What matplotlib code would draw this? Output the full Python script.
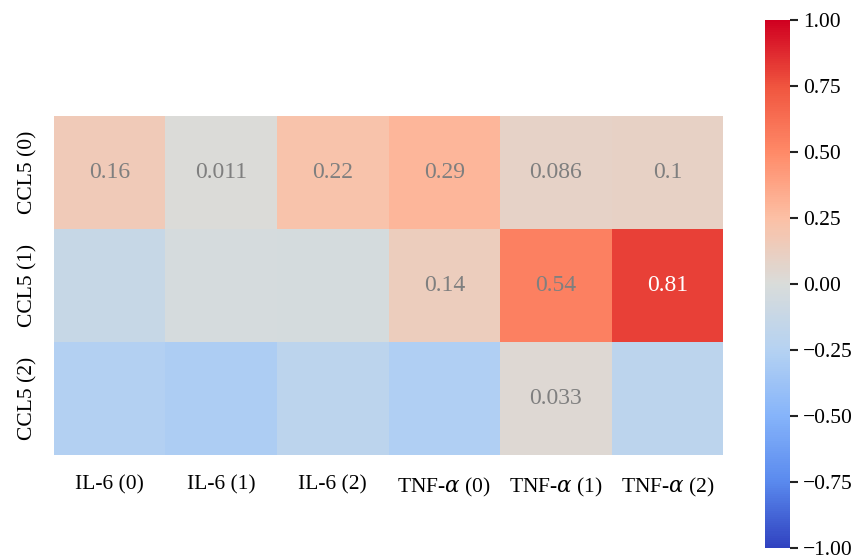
import numpy as np
import matplotlib
matplotlib.use("Agg")
import matplotlib.pyplot as plt
from matplotlib.colors import LinearSegmentedColormap

# Correlation values (rows: CCL5 clusters, cols: IL-6 / TNF-a clusters)
row_labels = ["CCL5 (0)", "CCL5 (1)", "CCL5 (2)"]
col_labels = ["IL-6 (0)", "IL-6 (1)", "IL-6 (2)",
              "TNF-$\\alpha$ (0)", "TNF-$\\alpha$ (1)", "TNF-$\\alpha$ (2)"]
row0 = [0.16, 0.011, 0.22, 0.29, 0.086, 0.1]
row1 = [-0.13, -0.03, -0.035, 0.14, 0.54, 0.81]
row2 = [-0.26, -0.29, -0.2, -0.28, 0.033, -0.2]
cbar_ticks = [-1.0, -0.75, -0.5, -0.25, 0.0, 0.25, 0.5, 0.75, 1.0]

# coolwarm-like palette as it appears in the reference (brighter than mpl's)
palette = ['#3042c0', '#5a8aee', '#86b4fa', '#b5d2f2', '#d9dcda',
           '#fcc0a5', '#ff8a68', '#f0553f', '#d00020']

plt.rcParams['font.family'] = ['Liberation Serif', 'DejaVu Serif']
plt.rcParams['mathtext.fontset'] = 'dejavuserif'

corr = np.array([row0, row1, row2])
n_rows, n_cols = corr.shape

fig = plt.figure(figsize=(8.56, 5.58), dpi=100)
ax = fig.add_axes([0.063, 0.185, 0.782, 0.607])
cax = fig.add_axes([0.894, 0.018, 0.029, 0.946])

cmap = LinearSegmentedColormap.from_list('cw', palette)
mesh = ax.pcolormesh(corr, cmap=cmap, vmin=-1, vmax=1)
ax.set_xlim(0, n_cols)
ax.set_ylim(n_rows, 0)

# annotate only non-negative cells, seaborn-like .2g format
for i in range(n_rows):
    for j in range(n_cols):
        v = corr[i, j]
        if v < 0:
            continue
        color = 'white' if v > 0.7 else '#7f7f7f'
        ax.text(j + 0.5, i + 0.5, f"{v:.2g}", ha='center', va='center',
                fontsize=17, color=color)

ax.set_xticks(np.arange(n_cols) + 0.5)
ax.set_xticklabels(col_labels, fontsize=15.5)
ax.set_yticks(np.arange(n_rows) + 0.5)
ax.set_yticklabels(row_labels, fontsize=15.5, rotation=90, va='center')
ax.tick_params(length=0)
ax.tick_params(axis='x', pad=15)
ax.tick_params(axis='y', pad=12)
for s in ax.spines.values():
    s.set_visible(False)

cb = fig.colorbar(mesh, cax=cax, ticks=cbar_ticks)
cb.outline.set_visible(False)
cb.ax.set_yticklabels([f"{t:.2f}".replace('-', '\u2212') for t in cbar_ticks])
cb.ax.tick_params(labelsize=15.5, length=6, width=1.5, color='#222222')

fig.savefig("out.png", dpi=100)
